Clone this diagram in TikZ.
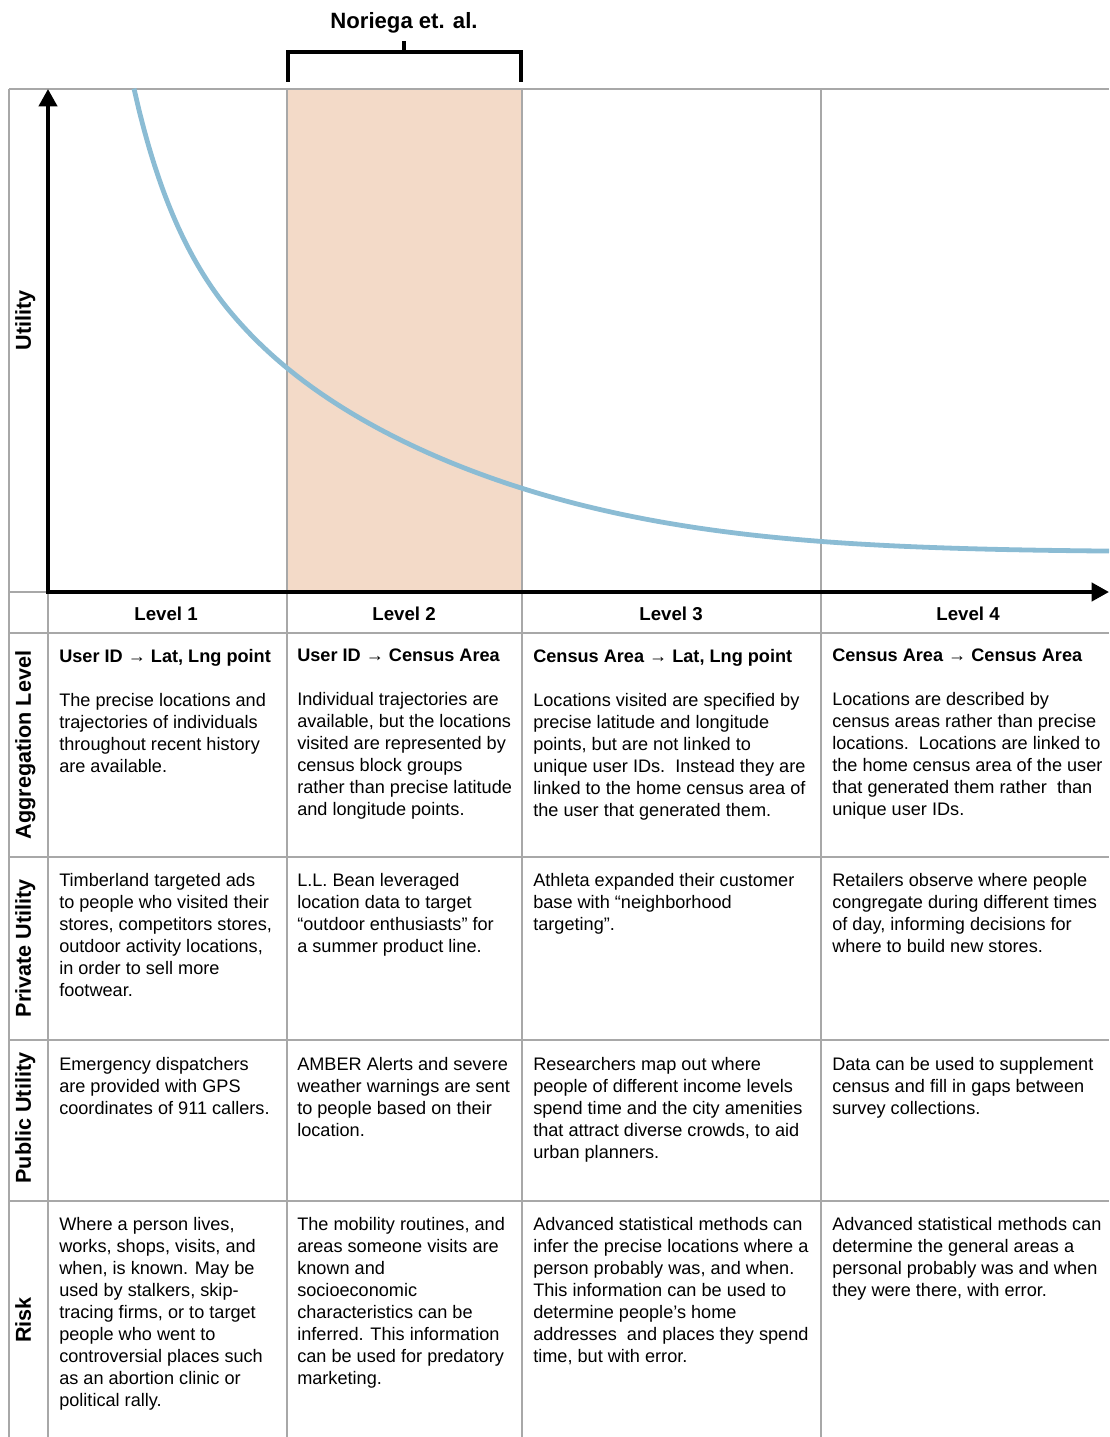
\documentclass[tikz,border=0pt]{standalone}
\usepackage{fontspec}
\setmainfont{Liberation Sans}
\usetikzlibrary{arrows.meta}
\definecolor{curveblue}{RGB}{139,188,212}
\definecolor{peach}{RGB}{243,218,200}
\definecolor{gridgray}{RGB}{168,168,168}
\newcommand{\toarr}{→}
\newcommand{\cellfont}{\fontsize{13.6}{16.5}\selectfont}
\newcommand{\rowfont}{\fontsize{16.2}{19}\selectfont\bfseries}
\newcommand{\levelfont}{\fontsize{14}{17}\selectfont\bfseries}
\begin{document}
\begin{tikzpicture}[x=0.75pt,y=-0.75pt,
	gridline/.style={gridgray,line width=1pt},
	axis/.style={line width=3pt,line join=miter,{Triangle[length=13pt,width=13.5pt]}-{Triangle[length=13pt,width=13.5pt]}},
	cell/.style={anchor=north west,inner sep=0pt,align=left,font=\cellfont},
	rowlabel/.style={rotate=90,anchor=base,inner sep=0pt,font=\rowfont},
	levellabel/.style={anchor=base,inner sep=0pt,font=\levelfont}]
	\useasboundingbox (0,0) rectangle (1109,1437);
	% shaded level of the study
	\fill[peach] (287,89) rectangle (522,592);
	% table lines
	\draw[gridline] (9,89)--(1109,89) (9,592)--(48,592) (9,89)--(9,1437) (48,592)--(48,1437);
	\foreach \y in {633,857,1040,1201} \draw[gridline] (9,\y)--(1109,\y);
	\foreach \x in {287,522,821} \draw[gridline] (\x,89)--(\x,1437);
	% bracket
	\node[font=\fontsize{16.6}{19}\selectfont\bfseries,anchor=base,inner sep=0pt] (noriega) at (404,29) {Noriega et. al.};
	\path (404,41)coordinate(tick) (404,52)coordinate(mid) (288,82)coordinate(bl) (521,82)coordinate(br);
	\draw[line width=2.3pt,line join=miter] (bl)--(bl|-mid)--(br|-mid)--(br) (mid)--(tick);
	% axes and curve
	\path (48,592)coordinate(O) (48,89)coordinate(ytop) (1109,592)coordinate(xend);
	\draw[curveblue,line width=3.6pt,samples=200,smooth,domain=134:1109] plot(\x,{552-479.65/(\x-30.5)*100*exp(-0.05*(max(\x-230,0)/100)^2)});
	\draw[axis] (ytop)--(O)--(xend);
	% row labels
	\node[rowlabel] (utility) at (31,320) {Utility};
	\node[rowlabel] (agglab) at (31,745) {Aggregation Level};
	\node[rowlabel] (privlab) at (31,948) {Private Utility};
	\node[rowlabel] (publab) at (31,1118) {Public Utility};
	\node[rowlabel] (risklab) at (31,1320) {Risk};
	% levels
	\node[levellabel] (lev1) at (166,620) {Level 1};
	\node[levellabel] (lev2) at (404,620) {Level 2};
	\node[levellabel] (lev3) at (671,620) {Level 3};
	\node[levellabel] (lev4) at (968,620) {Level 4};
	% aggregation level
	\node[cell] (agg1) at (59,649) {\textbf{User ID \toarr{} Lat, Lng point}\\[16.5pt]The precise locations and\\trajectories of individuals\\throughout recent history\\are available.};
	\node[cell] (agg2) at (297,649) {\textbf{User ID \toarr{} Census Area}\\[16.5pt]Individual trajectories are\\available, but the locations\\visited are represented by\\census block groups\\rather than precise latitude\\and longitude points.};
	\node[cell] (agg3) at (533,649) {\textbf{Census Area \toarr{} Lat, Lng point}\\[16.5pt]Locations visited are specified by\\precise latitude and longitude\\points, but are not linked to\\unique user IDs.\ \ Instead they are\\linked to the home census area of\\the user that generated them.};
	\node[cell] (agg4) at (832,649) {\textbf{Census Area \toarr{} Census Area}\\[16.5pt]Locations are described by\\census areas rather than precise\\locations.\ \ Locations are linked to\\the home census area of the user\\that generated them rather\ \ than\\unique user IDs.};
	% private utility
	\node[cell] (priv1) at (59,873) {Timberland targeted ads\\to people who visited their\\stores, competitors stores,\\outdoor activity locations,\\in order to sell more\\footwear.};
	\node[cell] (priv2) at (297,873) {L.L. Bean leveraged\\location data to target\\“outdoor enthusiasts” for\\a summer product line.};
	\node[cell] (priv3) at (533,873) {Athleta expanded their customer\\base with “neighborhood\\targeting”.};
	\node[cell] (priv4) at (832,873) {Retailers observe where people\\congregate during different times\\of day, informing decisions for\\where to build new stores.};
	% public utility
	\node[cell] (pub1) at (59,1057) {Emergency dispatchers\\are provided with GPS\\coordinates of 911 callers.};
	\node[cell] (pub2) at (297,1057) {AMBER Alerts and severe\\weather warnings are sent\\to people based on their\\location.};
	\node[cell] (pub3) at (533,1057) {Researchers map out where\\people of different income levels\\spend time and the city amenities\\that attract diverse crowds, to aid\\urban planners.};
	\node[cell] (pub4) at (832,1057) {Data can be used to supplement\\census and fill in gaps between\\survey collections.};
	% risk
	\node[cell] (risk1) at (59,1217) {Where a person lives,\\works, shops, visits, and\\when, is known. May be\\used by stalkers, skip-\\tracing firms, or to target\\people who went to\\controversial places such\\as an abortion clinic or\\political rally.};
	\node[cell] (risk2) at (297,1217) {The mobility routines, and\\areas someone visits are\\known and\\socioeconomic\\characteristics can be\\inferred. This information\\can be used for predatory\\marketing.};
	\node[cell] (risk3) at (533,1217) {Advanced statistical methods can\\infer the precise locations where a\\person probably was, and when.\\This information can be used to\\determine people’s home\\addresses\ \ and places they spend\\time, but with error.};
	\node[cell] (risk4) at (832,1217) {Advanced statistical methods can\\determine the general areas a\\personal probably was and when\\they were there, with error.};
\end{tikzpicture}
\end{document}
